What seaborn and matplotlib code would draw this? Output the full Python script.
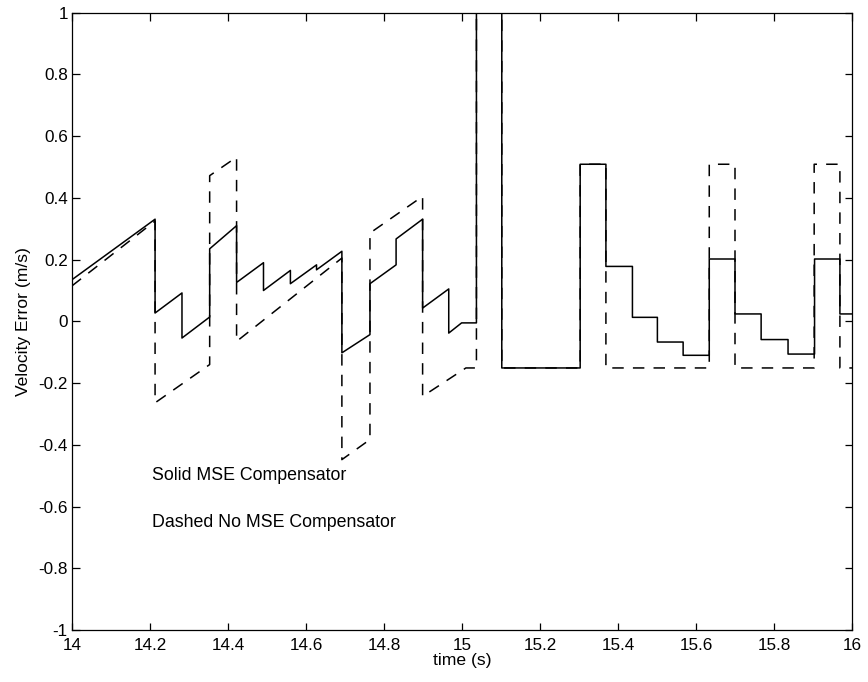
import numpy as np
import pandas as pd
import matplotlib
matplotlib.use("Agg")
import matplotlib.pyplot as plt
import seaborn as sns

# ---------------- data ----------------
solid_t = [14.000, 14.213, 14.213, 14.282, 14.282, 14.353, 14.353, 14.422, 14.422,
           14.491, 14.491, 14.560, 14.560, 14.627, 14.627, 14.692, 14.692, 14.764,
           14.764, 14.831, 14.831, 14.899, 14.899, 14.966, 14.966, 14.999, 15.037,
           15.037, 15.102, 15.102, 15.303, 15.303, 15.369, 15.369, 15.437, 15.437,
           15.501, 15.501, 15.567, 15.567, 15.634, 15.634, 15.700, 15.700, 15.767,
           15.767, 15.836, 15.836, 15.904, 15.904, 15.969, 15.969, 16.000]
solid_v = [0.135, 0.331, 0.027, 0.092, -0.054, 0.014, 0.235, 0.310, 0.126,
           0.190, 0.100, 0.165, 0.122, 0.183, 0.167, 0.227, -0.102, -0.043,
           0.122, 0.183, 0.267, 0.331, 0.043, 0.105, -0.038, -0.005, -0.005,
           1.500, 1.500, -0.151, -0.151, 0.509, 0.509, 0.178, 0.178, 0.013,
           0.013, -0.067, -0.067, -0.110, -0.110, 0.202, 0.202, 0.024, 0.024,
           -0.059, -0.059, -0.106, -0.106, 0.202, 0.202, 0.024, 0.024]

dashed_t = [14.000, 14.213, 14.213, 14.353, 14.353, 14.422, 14.422, 14.692, 14.692,
            14.764, 14.764, 14.899, 14.899, 15.010, 15.037, 15.037, 15.102, 15.102,
            15.303, 15.303, 15.369, 15.369, 15.634, 15.634, 15.700, 15.700, 15.903,
            15.903, 15.969, 15.969, 16.000]
dashed_v = [0.115, 0.325, -0.264, -0.140, 0.472, 0.532, -0.065, 0.205, -0.448,
            -0.383, 0.286, 0.405, -0.243, -0.151, -0.151, 1.500, 1.500, -0.151,
            -0.151, 0.509, 0.509, -0.151, -0.151, 0.509, 0.509, -0.151, -0.151,
            0.509, 0.509, -0.151, -0.151]

x_ticks = [14.0, 14.2, 14.4, 14.6, 14.8, 15.0, 15.2, 15.4, 15.6, 15.8, 16.0]
x_tick_labels = ["14", "14.2", "14.4", "14.6", "14.8", "15", "15.2", "15.4", "15.6", "15.8", "16"]
y_ticks = [-1.0, -0.8, -0.6, -0.4, -0.2, 0.0, 0.2, 0.4, 0.6, 0.8, 1.0]
y_tick_labels = ["-1", "-0.8", "-0.6", "-0.4", "-0.2", "0", "0.2", "0.4", "0.6", "0.8", "1"]

annotations = ["Solid MSE Compensator", "Dashed No MSE Compensator"]
annotation_y = [-0.50, -0.652]

# ---------------- style ----------------
sns.set_theme(style="ticks")
plt.rcParams["font.family"] = ["Liberation Sans", "DejaVu Sans"]
plt.rcParams["axes.unicode_minus"] = False

W, H = 868, 682
fig = plt.figure(figsize=(W / 100, H / 100), dpi=100)
fig.patch.set_facecolor("white")
ax = fig.add_axes([72 / W, 1 - 630 / H, 780 / W, (630 - 12.7) / H])
ax.set_facecolor("white")

df_dashed = pd.DataFrame({"t": dashed_t, "v": dashed_v})
df_solid = pd.DataFrame({"t": solid_t, "v": solid_v})

sns.lineplot(data=df_dashed, x="t", y="v", sort=False, estimator=None,
             color="black", linewidth=1.1, linestyle=(0, (7.5, 6)), ax=ax)
sns.lineplot(data=df_solid, x="t", y="v", sort=False, estimator=None,
             color="black", linewidth=1.1, ax=ax)

ax.set_xlim(14, 16)
ax.set_ylim(-1, 1)
ax.set_xticks(x_ticks)
ax.set_xticklabels(x_tick_labels)
ax.set_yticks(y_ticks)
ax.set_yticklabels(y_tick_labels)

for s in ax.spines.values():
    s.set_visible(True)
    s.set_color("black")
    s.set_linewidth(0.9)

ax.tick_params(direction="in", length=5.4, width=0.9, color="black",
               top=True, right=True, labelsize=12.3, labelcolor="black")
ax.tick_params(axis="x", pad=6)
ax.tick_params(axis="y", pad=3)

ax.set_xlabel("time (s)", fontsize=12.6, labelpad=0, color="black")
ax.set_ylabel("Velocity Error (m/s)", fontsize=12.6, labelpad=5, color="black")

for txt, yy in zip(annotations, annotation_y):
    ax.text(14.206, yy, txt, fontsize=12.8, va="center", ha="left", color="black")

fig.savefig("out.png", dpi=100, facecolor="white")
